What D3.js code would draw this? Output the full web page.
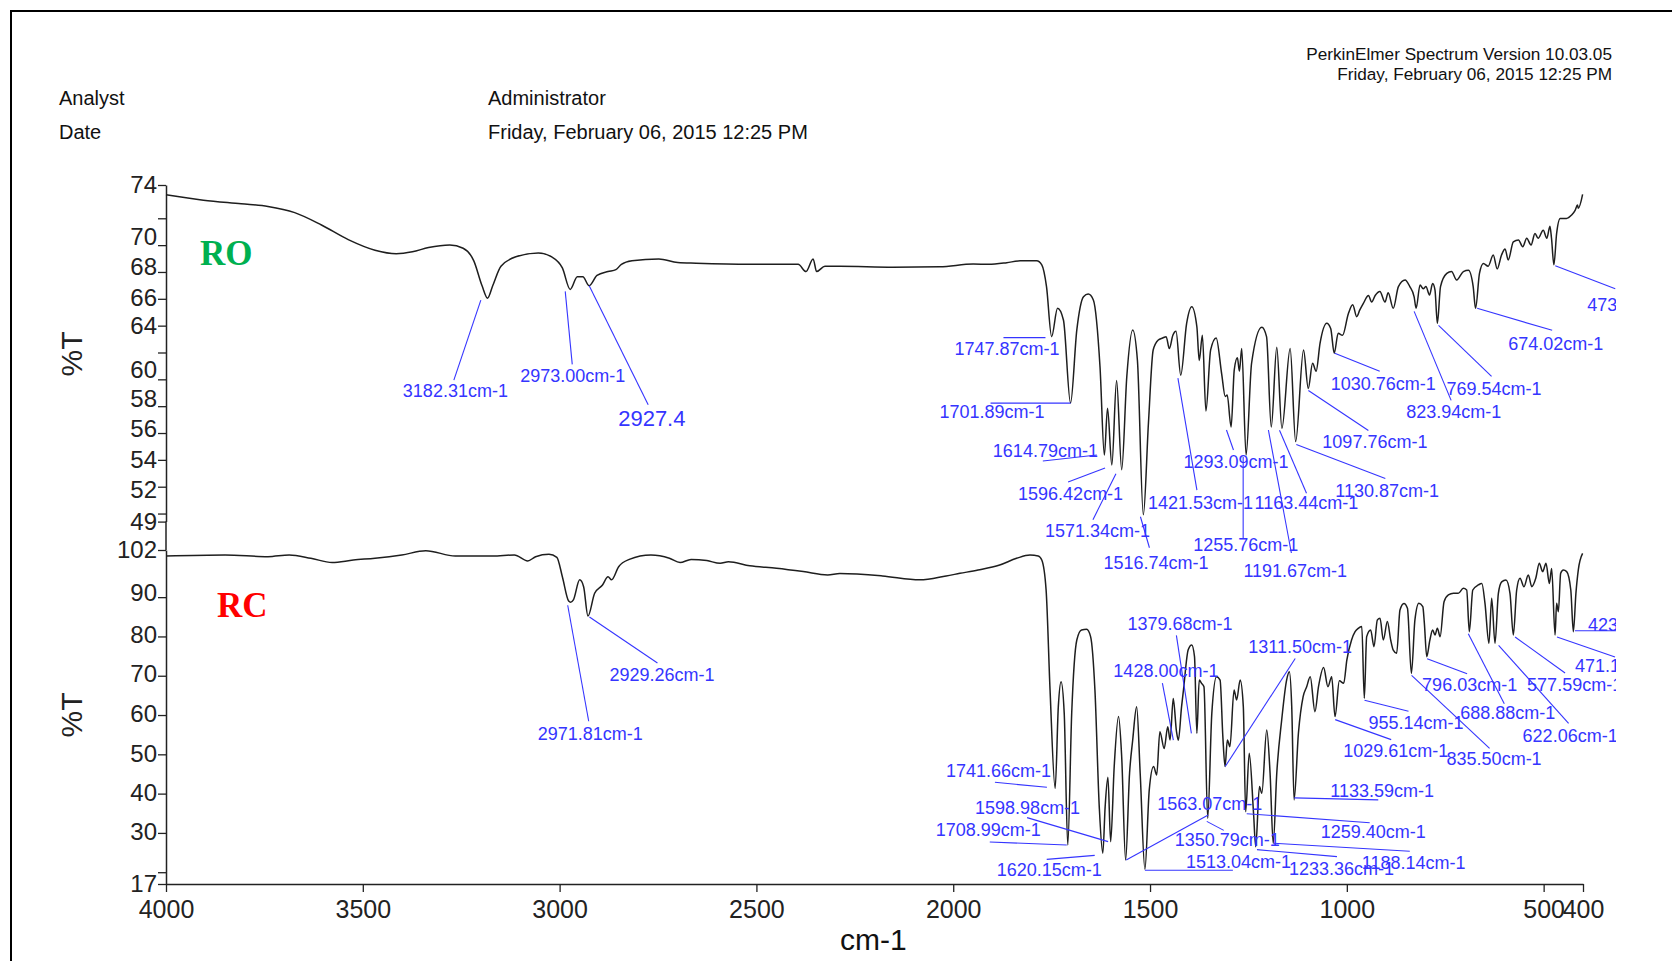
<!DOCTYPE html>
<html>
<head>
    <meta charset="utf-8" />
    <title>FTIR spectra RO / RC</title>
    <script src="https://d3js.org/d3.v7.min.js"></script>
    <style>
        body { margin: 0; background: #fff; }
    </style>
</head>
<body>
<svg id="chart" width="1672" height="961"></svg>

<script>
    // ---- data ----

    // x axis (wavenumber, cm-1)
    var wnTicks = [4000, 3500, 3000, 2500, 2000, 1500, 1000, 500, 400];

    // %T ticks; the printout puts its rounded range limits at the ends of each axis
    var roRange = [49.4, 74.48];
    var roTicks = [74.48, 72, 70, 68, 66, 64, 62, 60, 58, 56, 54, 52, 50, 49.4];
    var roTickHidden = [72, 62, 50];
    var rcRange = [17, 102];
    var rcTicks = [102, 90, 80, 70, 60, 50, 40, 30, 20, 17];
    var rcTickHidden = [20];

    // RO spectrum [wavenumber, %T]
    var roSpectrum = [
        [4000,73.76],[3905,73.35],[3809,73.08],[3741,72.88],[3673,72.42],[3605,71.5],[3537,70.41],[3469,69.62],
        [3415,69.36],[3374,69.5],[3333,69.82],[3279,70.01],[3245,69.77],[3218,68.83],[3197,66.97],[3183,66.05],
        [3170,66.97],[3149,68.43],[3109,69.15],[3054,69.42],[3020,69.12],[2993,68.3],[2973,66.7],[2955,67.64],
        [2941,67.64],[2925,66.97],[2905,67.74],[2877,68.03],[2857,68.17],[2843,68.57],[2816,68.83],[2748,68.97],
        [2700,68.7],[2653,68.65],[2517,68.57],[2394,68.57],[2374,68.03],[2356,68.97],[2347,68.03],[2326,68.43],
        [2288,68.43],[2153,68.36],[2034,68.39],[1949,68.59],[1910,68.57],[1864,68.69],[1830,68.83],[1788,68.83],
        [1775,68.53],[1763,66.91],[1750,63.18],[1735,65.29],[1720,64.42],[1702,58.23],[1686,63.68],[1669,66.15],
        [1657,66.35],[1644,65.91],[1627,60.9],[1616,54.36],[1608,57.84],[1597,53.62],[1585,59.91],[1572,53.27],
        [1559,60.21],[1544,63.68],[1532,61.4],[1517,49.91],[1504,56.75],[1492,62.19],[1479,62.93],[1468,63.08],
        [1459,63.18],[1451,62.29],[1442,63.28],[1434,63.58],[1422,60.31],[1407,64.17],[1394,65.41],[1381,63.92],
        [1375,61.4],[1367,63.28],[1358,57.64],[1346,62.19],[1332,63.08],[1318,60.41],[1309,58.73],[1304,58.83],
        [1294,56.45],[1286,60.71],[1278,61.6],[1273,60.61],[1267,62.29],[1256,54.36],[1242,61.2],[1216,63.88],
        [1204,63.18],[1192,56.45],[1178,62.39],[1165,56.35],[1144,62.29],[1130,55.36],[1110,62.19],[1098,59.32],
        [1087,61.2],[1078,60.61],[1068,62.69],[1051,64.17],[1041,63.78],[1032,61.95],[1022,63.43],[1011,63.28],
        [996,64.91],[985,65.56],[975,64.67],[967,65.17],[958,65.66],[945,66.25],[937,65.76],[928,66.25],
        [916,66.55],[903,65.76],[895,66.45],[882,65.29],[869,66.91],[852,67.4],[840,66.91],[829,66.15],
        [824,65.29],[814,67.02],[806,66.75],[799,66.91],[790,66.28],[782,67.14],[776,66.65],[770,64.17],
        [762,66.91],[746,67.89],[734,68.03],[721,67.4],[704,68.03],[691,68.13],[679,66.91],[673,65.29],
        [663,67.89],[653,68.63],[641,68.43],[628,69.26],[618,68.23],[607,69.26],[598,69.72],[590,68.89],
        [577,70.25],[564,70.38],[553,69.88],[543,70.51],[532,70.01],[522,70.87],[514,70.51],[501,71.1],
        [492,70.51],[484,71.4],[480,70.51],[474,68.53],[467,70.87],[458,71.99],[442,71.99],[429,72.24],
        [420,72.59],[414,72.99],[412,72.74],[401,73.78]
    ];

    // RC spectrum [wavenumber, %T]
    var rcSpectrum = [
        [4000,100.47],[3850,100.73],[3741,100.3],[3687,100.73],[3632,99.9],[3578,98.8],[3524,99.45],[3469,99.9],
        [3401,100.73],[3340,101.8],[3265,100.47],[3170,100.47],[3115,100.73],[3081,99.2],[3061,100.3],[3027,100.9],
        [3007,100.13],[2993,95.2],[2977,89.0],[2972,88.7],[2965,89.3],[2949,94.4],[2939,92.66],[2928,85.2],
        [2911,91],[2891,93.1],[2877,95.2],[2868,94.4],[2850,97.75],[2823,99.6],[2768,100.73],[2721,99.9],
        [2694,98.8],[2666,99.6],[2626,99.3],[2592,98.6],[2571,99.0],[2517,98.0],[2449,97.34],[2381,96.5],
        [2319,95.64],[2288,96.0],[2180,95.4],[2085,94.4],[2018,95.4],[1983,96.06],[1937,96.9],[1882,98.18],
        [1839,99.88],[1805,100.73],[1784,100.5],[1775,99.45],[1764,91.8],[1754,66.4],[1741,41.35],[1733,62.14],
        [1726,68.5],[1718,60.44],[1709,26.93],[1699,60.44],[1686,79.1],[1674,81.64],[1661,81.8],[1651,79.95],
        [1640,66.4],[1629,36.7],[1620,24.8],[1614,36.7],[1607,44.15],[1600,27.78],[1591,46.9],[1580,59.6],
        [1572,49.4],[1562,23.1],[1552,45.2],[1544,53.65],[1534,62.1],[1525,45.2],[1513,20.75],[1502,40.9],
        [1491,46.9],[1483,44.75],[1475,55.77],[1464,51.5],[1455,57],[1449,53.65],[1441,64.2],[1433,56],
        [1428,53.6],[1420,62],[1415,66.4],[1403,76.6],[1394,77.8],[1387,74.85],[1381,55.35],[1375,68.9],
        [1369,68.07],[1363,67.2],[1353.5,33.7],[1343,60.44],[1331,69.77],[1322,68.9],[1315,54.5],[1309.4,46.9],
        [1303.5,53.65],[1297,51.96],[1286.5,66.4],[1280,63.83],[1271,68.9],[1263,62.14],[1257,35.4],[1248,50.26],
        [1237,35],[1231.5,26.5],[1222,41.8],[1216,40.1],[1203.5,56.2],[1195,45.2],[1187,27.36],[1178,45.2],
        [1165.5,58.74],[1153,68.9],[1146,71],[1140,62.14],[1134,38.4],[1123,55.35],[1111,64.68],[1102,67.2],
        [1093,69.77],[1081,60.86],[1072,67.2],[1059,72.1],[1048,67.2],[1038.5,69.77],[1030,59.6],[1019,68.7],
        [1008,68.07],[1000,74],[988,79.1],[979,81.2],[971,82.07],[962,82.5],[955.6,64.26],[949.6,79.95],
        [939.5,81.64],[931,77.4],[922.5,84.2],[915.7,84.6],[907.3,79.1],[897,83.8],[888.6,79.1],[882,76.5],
        [873.4,75.7],[865,86.73],[855,88.4],[846,87.16],[836,70.6],[827,84.2],[817,88.43],[807,87.6],
        [803,83.34],[797,74.86],[789,79.1],[782,81.64],[776,80.37],[770,82.07],[763,79.95],[753,88.85],
        [742,90.55],[729,90.97],[717,90.97],[704,92.25],[695.5,91.82],[688.8,81.2],[680,91.82],[666,93.1],
        [657,93.5],[649,88.43],[639,78.25],[632,89.7],[623.6,78.25],[615,90.97],[606.6,93.9],[595.6,94.37],
        [585.5,90.97],[577,80.37],[568.5,91.82],[560,94.8],[550,92.67],[539,95.64],[530,92.67],[520,94.8],
        [511,98.6],[502.5,96.5],[494,98.6],[485.5,93.5],[479.6,97.3],[471,80.37],[467,88.43],[462.6,86.3],
        [456.7,96.06],[450,96.9],[441.5,96.5],[431,91.82],[424.5,81.2],[418,90.97],[412,96.9],[401,101.15]
    ];

    // peak labels (wavenumber + printed text)
    var roPeaks = [3182.31, 2973.00, 2927.4, 1747.87, 1701.89, 1614.79, 1596.42, 1571.34, 1516.74, 1421.53,
                   1163.44, 1293.09, 1255.76, 1191.67, 1130.87, 1097.76, 1030.76, 823.94, 769.54, 674.02, 473];
    var roPeakText = ["3182.31cm-1", "2973.00cm-1", "2927.4", "1747.87cm-1", "1701.89cm-1", "1614.79cm-1",
                      "1596.42cm-1", "1571.34cm-1", "1516.74cm-1", "1421.53cm-1", "1163.44cm-1", "1293.09cm-1",
                      "1255.76cm-1", "1191.67cm-1", "1130.87cm-1", "1097.76cm-1", "1030.76cm-1", "823.94cm-1",
                      "769.54cm-1", "674.02cm-1", "473"];

    var rcPeaks = [2971.81, 2929.26, 1741.66, 1708.99, 1620.15, 1598.98, 1563.07, 1513.04, 1428.00, 1379.68,
                   1350.79, 1311.50, 1259.40, 1233.36, 1188.14, 1133.59, 1029.61, 955.14, 835.50, 796.03,
                   688.88, 622.06, 577.59, 471.1, 423];
    var rcPeakText = ["2971.81cm-1", "2929.26cm-1", "1741.66cm-1", "1708.99cm-1", "1620.15cm-1", "1598.98cm-1",
                      "1563.07cm-1", "1513.04cm-1", "1428.00cm-1", "1379.68cm-1", "1350.79cm-1", "1311.50cm-1",
                      "1259.40cm-1", "1233.36cm-1", "1188.14cm-1", "1133.59cm-1", "1029.61cm-1", "955.14cm-1",
                      "835.50cm-1", "796.03cm-1", "688.88cm-1", "622.06cm-1", "577.59cm-1", "471.1", "423"];

    // ---- layout: callout offsets from the peak, in px [lineStartX, lineStartY, lineEndX, lineEndY, textX, textY]
    var roCallouts = [
        [-7,2,-34,82,-85,99], [-5,2,2,75,-50,93], [1,0,60,119,30,140], [-7,1,-49,1,-98,18],
        [0,0,-80,0,-131,15], [-8,0,-62,6,-112,2], [-7,3,-44,17,-94,35], [-6,4,-29,50,-77,67],
        [-3,2,6,33,-40,54], [-3,3,16,115,-33,134], [-3,2,24,65,-28,81], [-5,3,2,23,-48,41],
        [-3,2,-3,83,-53,96], [-3,3,20,126,-28,150], [1,3,90,37,40,55], [0,2,60,42,14,60],
        [0,0,45,18,-4,37], [-2,3,35,92,-10,110], [1,2,54,53,9,72], [2,0,77,22,33,42], [1,1,61,24,33,46]
    ];
    var rcCallouts = [
        [-3,3,18,119,-33,138], [2,1,70,47,22,65], [-8,-1,-60,-6,-109,-11], [-1,0,-78,-3,-132,-9],
        [-8,2,-56,6,-106,23], [-3,0,-84,-24,-136,-28], [1,0,83,-45,32,-50], [0,1,88,1,41,-1],
        [-5,0,-16,-57,-65,-63], [-6,0,-21,-98,-70,-103], [-2,3,15,12,-34,28], [1,0,71,-108,24,-114],
        [2,2,125,11,76,26], [2,3,82,10,34,28], [1,0,137,8,89,26], [0,-2,84,0,36,-3],
        [0,3,56,23,8,40], [0,2,44,13,4,31], [0,2,78,75,35,92], [0,2,40,17,-5,34],
        [-1,2,35,72,-9,87], [3,2,73,80,27,99], [2,2,52,38,14,56], [2,2,60,22,20,37], [1,-1,42,-1,14,-1]
    ];

    // the printout sets some tick labels a few px off their ticks (px, + is down)
    var roLabelNudge = { 70: -8, 68: -5, 66: -1, 60: -10, 58: -7, 56: -4, 52: 3 };
    var rcLabelNudge = { 90: -4, 80: -2, 70: -2, 60: -1, 50: -1, 40: -1, 30: -1 };

    var blue = "#3535ff";
    var ink = "#1e1e1e";
    var sans = 'Arial, "Liberation Sans", sans-serif';
    var serif = '"Times New Roman", "Liberation Serif", serif';

    var svg = d3.select("#chart").style("font-family", sans);

    var x = d3.scaleLinear().domain([4000, 400]).range([166, 1583]);
    var yRO = d3.scaleLinear().domain(roRange).range([521.6, 185]);
    var yRC = d3.scaleLinear().domain(rcRange).range([884, 550]);

    // page frame (top + left edge only, rest runs off the page)
    svg.append("path")
        .attr("d", "M11,961V11H1672")
        .attr("fill", "none")
        .attr("stroke", "#000")
        .attr("stroke-width", 2);

    // header
    function headText(t, px, py, size, anchor) {
        svg.append("text")
            .attr("x", px).attr("y", py)
            .attr("font-size", size)
            .attr("text-anchor", anchor || "start")
            .attr("fill", "#111")
            .text(t);
    }
    headText("Analyst", 59, 105, 20);
    headText("Date", 59, 139, 20);
    headText("Administrator", 488, 105, 20);
    headText("Friday, February 06, 2015 12:25 PM", 488, 139, 20);
    headText("PerkinElmer Spectrum Version 10.03.05", 1612, 60, 17.2, "end");
    headText("Friday, February 06, 2015 12:25 PM", 1612, 80, 17.2, "end");

    // axes
    function styleAxis(g, size) {
        g.attr("font-size", size).attr("font-family", sans);
        g.selectAll("text").attr("fill", "#222");
        g.selectAll("line").attr("stroke", "#222").attr("stroke-width", 1.3);
        g.select(".domain").attr("stroke", "#222").attr("stroke-width", 1.5);
    }

    function nudgeLabels(g, nudge) {
        g.selectAll(".tick text").attr("transform", function(d) {
            return "translate(0," + (nudge[d] || 0) + ")";
        });
    }

    var gx = svg.append("g")
        .attr("transform", "translate(0," + yRC(17) + ")")
        .call(d3.axisBottom(x).tickValues(wnTicks).tickFormat(d3.format("d"))
            .tickSize(8).tickSizeOuter(0).tickPadding(8));
    styleAxis(gx, 25);

    var gyRO = svg.append("g")
        .attr("transform", "translate(" + x(4000) + ",0)")
        .call(d3.axisLeft(yRO).tickValues(roTicks)
            .tickFormat(function(d) { return roTickHidden.indexOf(d) >= 0 ? "" : d3.format(".0f")(d); })
            .tickSize(8).tickSizeOuter(0).tickPadding(1));
    styleAxis(gyRO, 24);
    nudgeLabels(gyRO, roLabelNudge);

    var gyRC = svg.append("g")
        .attr("transform", "translate(" + x(4000) + ",0)")
        .call(d3.axisLeft(yRC).tickValues(rcTicks)
            .tickFormat(function(d) { return rcTickHidden.indexOf(d) >= 0 ? "" : d; })
            .tickSize(8).tickSizeOuter(0).tickPadding(1));
    styleAxis(gyRC, 24);
    nudgeLabels(gyRC, rcLabelNudge);

    // join the two y axes
    svg.append("line")
        .attr("x1", x(4000)).attr("x2", x(4000))
        .attr("y1", yRO(roRange[0])).attr("y2", yRC(102))
        .attr("stroke", "#222").attr("stroke-width", 1.5);

    // axis titles
    svg.append("text")
        .attr("transform", "translate(82,354) rotate(-90)")
        .attr("text-anchor", "middle")
        .attr("font-size", 30).attr("fill", "#222")
        .text("%T");
    svg.append("text")
        .attr("transform", "translate(82," + yRC(60) + ") rotate(-90)")
        .attr("text-anchor", "middle")
        .attr("font-size", 30).attr("fill", "#222")
        .text("%T");
    svg.append("text")
        .attr("x", 840).attr("y", 950)
        .attr("font-size", 30).attr("fill", "#111")
        .text("cm-1");

    // spectra
    function drawSpectrum(series, y) {
        var line = d3.line()
            .x(function(d) { return x(d[0]); })
            .y(function(d) { return y(d[1]); })
            .curve(d3.curveMonotoneX);
        svg.append("path")
            .datum(series)
            .attr("d", line)
            .attr("fill", "none")
            .attr("stroke", ink)
            .attr("stroke-width", 1.5)
            .attr("stroke-linejoin", "round");
    }
    drawSpectrum(roSpectrum, yRO);
    drawSpectrum(rcSpectrum, yRC);

    // sample names
    svg.append("text")
        .attr("x", 200).attr("y", 265)
        .style("font-family", serif)
        .attr("font-weight", "bold").attr("font-size", 35)
        .attr("fill", "#00b050")
        .text("RO");
    svg.append("text")
        .attr("x", 217).attr("y", 617)
        .style("font-family", serif)
        .attr("font-weight", "bold").attr("font-size", 35)
        .attr("fill", "#ff0000")
        .text("RC");

    // peak callouts, clipped at the print margin
    svg.append("clipPath").attr("id", "printArea")
        .append("rect").attr("x", 0).attr("y", 0).attr("width", 1616).attr("height", 961);

    var labelLayer = svg.append("g").attr("clip-path", "url(#printArea)");

    // %T of the spectrum point closest to a wavenumber
    function nearestT(series, wn) {
        var best = series[0];
        series.forEach(function(p) {
            if (Math.abs(p[0] - wn) < Math.abs(best[0] - wn)) best = p;
        });
        return best[1];
    }

    function drawCallouts(peaks, texts, layout, series, y) {
        peaks.forEach(function(wn, i) {
            var px = x(wn);
            var py = y(nearestT(series, wn));
            var o = layout[i];
            labelLayer.append("line")
                .attr("x1", px + o[0]).attr("y1", py + o[1])
                .attr("x2", px + o[2]).attr("y2", py + o[3])
                .attr("stroke", blue).attr("stroke-width", 1.1);
            labelLayer.append("text")
                .attr("x", px + o[4]).attr("y", py + o[5])
                .attr("font-size", texts[i] === "2927.4" ? 22 : 18)
                .attr("fill", blue)
                .text(texts[i]);
        });
    }
    drawCallouts(roPeaks, roPeakText, roCallouts, roSpectrum, yRO);
    drawCallouts(rcPeaks, rcPeakText, rcCallouts, rcSpectrum, yRC);
</script>
</body>
</html>
